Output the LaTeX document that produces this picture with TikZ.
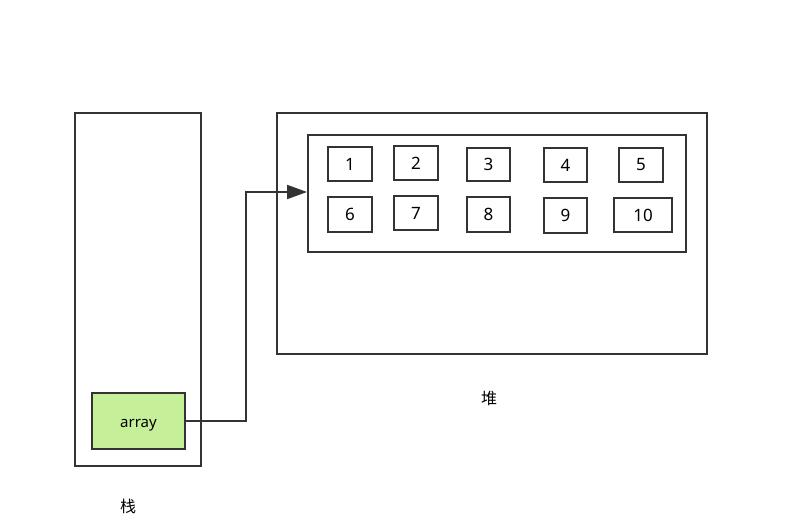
\documentclass[tikz,border=0pt]{standalone}
\usepackage{fontspec}
\setmainfont{Noto Sans}
\newfontfamily\cjk{Noto Sans CJK SC}
\usetikzlibrary{arrows.meta}
\begin{document}
\begin{tikzpicture}[x=1pt,y=-1pt,
  box/.style={draw=black!80,line width=2pt,inner sep=0pt},
  cell/.style={box,font=\fontsize{17}{17}\selectfont},
  lbl/.style={font=\cjk\fontsize{16}{16}\selectfont,inner sep=0pt}]
\useasboundingbox (0,0) rectangle (801,522);
\fill[white] (0,0) rectangle (801,522);
% stack
\node[box,minimum width=126pt,minimum height=353pt] (stack) at (138,289.5) {};
\node[lbl] (stacklbl) at (128,506) {栈};
% heap
\node[box,minimum width=430pt,minimum height=241pt] (heap) at (492,233.5) {};
\node[box,minimum width=378pt,minimum height=117pt] (inner) at (497,193.5) {};
\node[lbl] (heaplbl) at (489,398) {堆};
% cells
\node[cell,minimum width=44pt,minimum height=34pt] (c1) at (350,164) {1};
\node[cell,minimum width=44pt,minimum height=34pt] (c2) at (416,163) {2};
\node[cell,minimum width=43pt,minimum height=33pt] (c3) at (488.5,164.5) {3};
\node[cell,minimum width=43pt,minimum height=34pt] (c4) at (565.5,165) {4};
\node[cell,minimum width=44pt,minimum height=34pt] (c5) at (641,165) {5};
\node[cell,minimum width=44pt,minimum height=35pt] (c6) at (350,214.5) {6};
\node[cell,minimum width=44pt,minimum height=34pt] (c7) at (416,213) {7};
\node[cell,minimum width=43pt,minimum height=35pt] (c8) at (488.5,214.5) {8};
\node[cell,minimum width=43pt,minimum height=35pt] (c9) at (565.5,215.5) {9};
\node[cell,minimum width=58pt,minimum height=34pt] (c10) at (643,215) {10};
% array
\node[box,fill={rgb,255:red,198;green,239;blue,154},minimum width=93pt,minimum height=56pt,font=\fontsize{15}{15}\selectfont] (arr) at (138.5,421) {\raisebox{-6pt}[0pt][0pt]{array}};
\coordinate (bend1) at (246,421);
\coordinate (bend2) at (246,192);
\draw[line width=2pt,draw=black!80,-{Triangle[length=20pt,width=14pt]}] (arr.east) -- (bend1) -- (bend2) -- (inner.west |- bend2);
\end{tikzpicture}
\end{document}
